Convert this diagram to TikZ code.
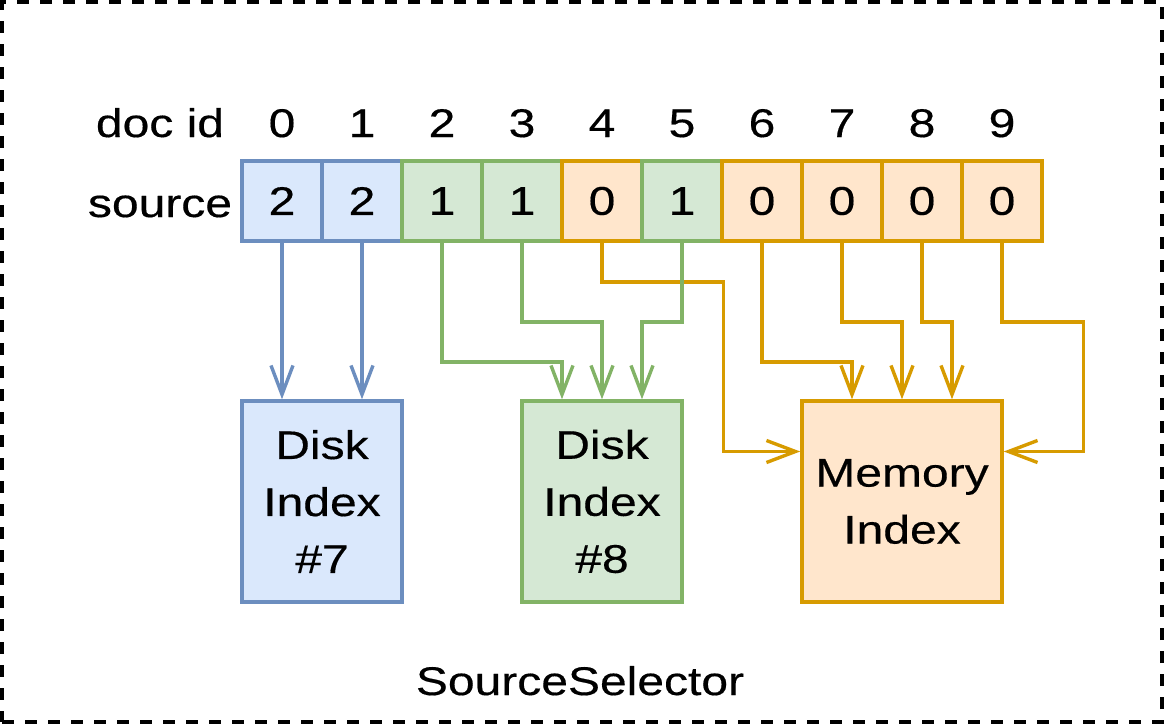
\documentclass[tikz,border=0pt]{standalone}
\usepackage{fontspec}
\setmainfont{Liberation Sans}[FakeStretch=1.2,FakeBold=0.4]
\usetikzlibrary{arrows.meta}
\definecolor{bfill}{HTML}{DAE8FC}\definecolor{bline}{HTML}{6C8EBF}
\definecolor{gfill}{HTML}{D5E8D4}\definecolor{gline}{HTML}{82B366}
\definecolor{ofill}{HTML}{FFE6CC}\definecolor{oline}{HTML}{D79B00}
\begin{document}
\begin{tikzpicture}[x=1pt,y=-1pt,
  every node/.style={font=\fontsize{40}{57}\selectfont},
  cell/.style={draw,line width=3.5pt,minimum width=80pt,minimum height=80pt,inner sep=0pt},
  bcell/.style={cell,fill=bfill,draw=bline},
  gcell/.style={cell,fill=gfill,draw=gline},
  ocell/.style={cell,fill=ofill,draw=oline},
  idx/.style={draw,line width=3.5pt,minimum height=201pt,inner sep=0pt,align=center},
  conn/.style={line width=3.4pt,-{Straight Barb[length=29pt,width=22pt]}},
  barr/.style={conn,draw=bline},
  garr/.style={conn,draw=gline},
  oarr/.style={conn,draw=oline}]
\useasboundingbox (0,0) rectangle (1168,728);
\node[draw,line width=4pt,dash pattern=on 12pt off 11pt,minimum width=1160pt,minimum height=720pt,inner sep=0pt] (frame) at (582,362) {};
\node[anchor=base] (lid) at (160,137) {doc id};
\node[anchor=base] (lsrc) at (160,217) {source};
\foreach \i in {0,...,9} \node[anchor=base] (d\i) at (282+80*\i,137) {\i};
\node[bcell] (c0) at (282,201) {2};
\node[bcell] (c1) at (362,201) {2};
\node[gcell] (c2) at (442,201) {1};
\node[gcell] (c3) at (522,201) {1};
\node[ocell] (c4) at (602,201) {0};
\node[gcell] (c5) at (682,201) {1};
\node[ocell] (c6) at (762,201) {0};
\node[ocell] (c7) at (842,201) {0};
\node[ocell] (c8) at (922,201) {0};
\node[ocell] (c9) at (1002,201) {0};
\node[idx,fill=bfill,draw=bline,minimum width=160pt] (b7) at (322,501.5) {Disk\\Index\\\#7};
\node[idx,fill=gfill,draw=gline,minimum width=160pt] (b8) at (602,501.5) {Disk\\Index\\\#8};
\node[idx,fill=ofill,draw=oline,minimum width=200pt] (mem) at (902,501.5) {Memory\\Index};
\node[anchor=base] (title) at (580,695) {SourceSelector};
\coordinate (L1) at (0,282);
\coordinate (L2) at (0,322);
\coordinate (L3) at (0,362);
\coordinate (memL) at ([yshift=50pt]mem.west);
\coordinate (memR) at ([yshift=50pt]mem.east);
% blue
\draw[barr] (c0.south) -- (c0.south |- b7.north);
\draw[barr] (c1.south) -- (c1.south |- b7.north);
% orange
\draw[oarr] (c4.south) -- (c4.south |- L1) -| (c5.south east |- memL) -- (memL);
\draw[oarr] (c6.south) -- (c6.south |- L3) -| ([xshift=-50pt]mem.north);
\draw[oarr] (c7.south) -- (c7.south |- L2) -| (mem.north);
\draw[oarr] (c8.south) -- (c8.south |- L2) -| ([xshift=50pt]mem.north);
\draw[oarr] (c9.south) -- (c9.south |- L2) -| ([xshift=80pt]memR) -- (memR);
% green
\draw[garr] (c2.south) -- (c2.south |- L3) -| ([xshift=-40pt]b8.north);
\draw[garr] (c3.south) -- (c3.south |- L2) -| (b8.north);
\draw[garr] (c5.south) -- (c5.south |- L2) -| ([xshift=40pt]b8.north);
\end{tikzpicture}
\end{document}
